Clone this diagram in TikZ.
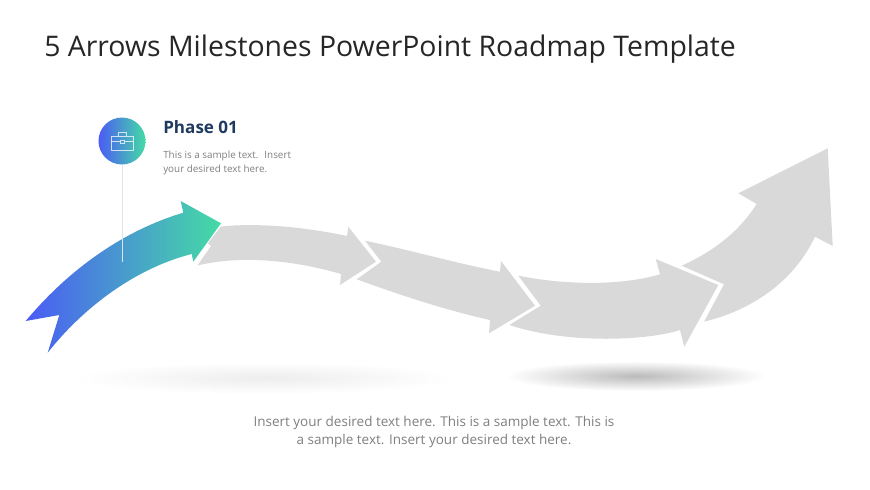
\documentclass[tikz,border=0pt]{standalone}
\usepackage{fontspec}
\setmainfont{Open Sans}
\usepackage{tikz}
\usetikzlibrary{positioning}
\definecolor{phaseblue}{HTML}{4B5BF5}
\definecolor{phasegreen}{HTML}{45DBA5}
\definecolor{arrowgray}{HTML}{D9D9D9}
\definecolor{headnavy}{HTML}{1F3A5F}
\definecolor{bodygray}{HTML}{7F7F7F}
\definecolor{pinline}{HTML}{DDE4EA}
\tikzset{
    grayarrow/.style={fill=arrowgray,draw=none},
    iconline/.style={draw=white,line width=0.45pt,opacity=0.75},
    bodytext/.style={text=bodygray,align=left,inner sep=0pt,font=\fontsize{7.4}{9.9}\selectfont}
}
\begin{document}
\begin{tikzpicture}[x=0.75pt,y=-0.75pt]
            \useasboundingbox (0,0) rectangle (870,489);
            \shade[inner color=black!7,outer color=white] (265,378) ellipse [x radius=190,y radius=16];
            \shade[inner color=black!27,outer color=white] (636,376) ellipse [x radius=130,y radius=15];

            \path[grayarrow] (197.5,265.5) -- (211,246) -- (208,243) -- (221,226.5)
                .. controls (255,223) and (300,226) .. (347,236) -- (348.3,226.7) -- (376,261.7) -- (340,285) -- (341,274)
                .. controls (300,262) and (245,254) .. (197.5,265.5) -- cycle;
            \path[grayarrow] (365,240.7) .. controls (410,250) and (455,263) .. (500,271.7) -- (501,261) -- (535,305.7) -- (489,333.3) -- (490,320)
                .. controls (445,310) and (400,295) .. (356.7,279.3) -- (381.3,261.7) -- cycle;
            \path[grayarrow] (518.3,275.7) .. controls (565,285) and (620,286) .. (660,274.3) -- (655.7,259) -- (718.3,285) -- (684.3,346.7) -- (680,330)
                .. controls (650,340) and (570,345) .. (509.3,325) -- (540.7,305.7) -- cycle;
            \path[grayarrow] (681.7,265.7) .. controls (712,252) and (738,233) .. (756.7,204) -- (738.3,193.3) -- (827.7,148.3) -- (832.7,246) -- (815,236.7)
                .. controls (797,275) and (760,308) .. (704,321.7) -- (724,284.3) -- cycle;

            \path[left color=phaseblue,right color=phasegreen] (25.7,321) .. controls (70,268) and (125,230) .. (183.3,212.7) -- (180.7,201) -- (221,223.3) -- (193.3,261.7) -- (191.7,254)
                .. controls (140,267) and (87,303) .. (47.7,352.7) -- (59.3,315) -- cycle;

            \node[circle,minimum size=47*0.75pt,inner sep=0pt,left color=phaseblue,right color=phasegreen] (phase) at (122,141) {};
            \coordinate (pinend) at (122,262);
            \draw[pinline,line width=0.7pt] (phase) -- (pinend);

            \draw[iconline] (111,136) rectangle (133.3,150.7);
            \draw[iconline] (118.3,136) -- (118.3,132) -- (126,132) -- (126,136);
            \draw[iconline] (111,141.7) -- (120,141.7) (124.5,141.7) -- (133.3,141.7);
            \draw[iconline] (120,140.2) rectangle (124.5,143.2);

            \node[anchor=west,inner sep=0pt,text=black!85,font=\fontsize{21.3}{25}\selectfont] (title) at (44,49) {5 Arrows Milestones PowerPoint Roadmap Template};
            \node[anchor=west,inner sep=0pt,text=headnavy,font=\fontsize{12.8}{15}\bfseries\selectfont] (phasehead) at (163,127) {Phase 01};
            \node[bodytext] (phasebody) [below = 13pt of phasehead.south west,anchor=north west] {This is a sample text.~ Insert\\your desired text here.};
            \node[inner sep=0pt,text=bodygray,align=center,font=\fontsize{10.13}{12.8}\selectfont] (footer) at (434,432) {Insert your desired text here. This is a sample text. This is\\a sample text. Insert your desired text here.};
\end{tikzpicture}
\end{document}
